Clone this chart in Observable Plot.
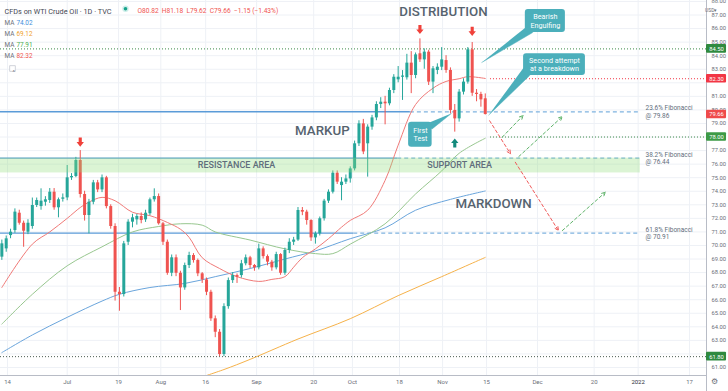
<!DOCTYPE html>
<html><head><meta charset="utf-8">
<script src="https://cdn.jsdelivr.net/npm/d3@7"></script>
<script src="https://cdn.jsdelivr.net/npm/@observablehq/plot@0.6"></script>
<style>
html,body{margin:0;padding:0;background:#fff;}
#chart{width:728px;height:391px;overflow:hidden;}
svg{display:block;}
</style></head><body><div id="chart"></div>
<script>
// ---------- DATA ----------
const firstBar = -1; // bar index of the first candle (Jun 14 = bar 0)
const opens  = [69.14,69.75,70.73,71.10,72.38,71.64,70.98,71.40,72.95,72.87,73.19,73.32,73.93,72.78,73.41,73.51,74.99,75.09,76.27,73.76,72.21,73.19,74.62,74.10,74.99,72.87,71.40,66.55,66.38,70.24,71.72,71.89,72.14,71.89,72.34,73.37,73.61,71.60,70.24,67.95,69.09,67.95,66.87,68.52,69.26,68.89,67.91,67.46,66.55,64.59,63.60,61.96,65.49,67.41,67.78,67.78,68.65,69.09,68.52,68.35,69.75,69.18,68.77,68.35,69.33,67.95,69.63,70.24,70.40,72.58,72.46,71.84,70.56,70.86,71.97,73.27,73.93,75.33,74.42,74.67,74.91,75.65,77.50,78.97,77.50,78.73,79.41,80.40,80.57,80.45,81.43,82.22,82.41,82.37,83.45,82.54,84.14,83.69,84.26,82.05,82.91,83.15,83.64,82.91,79.96,79.34,81.31,82.05,84.43,81.23,81.14,80.82];
const highs  = [70.40,70.70,71.20,72.70,72.60,71.80,71.90,73.50,73.50,74.18,73.60,74.20,74.20,73.50,73.80,75.90,75.30,76.50,77.00,74.00,73.40,74.80,74.80,75.20,75.10,73.00,71.60,66.90,70.30,71.90,72.30,72.30,72.40,72.60,73.50,74.18,73.80,71.70,70.40,69.30,69.30,68.10,68.70,69.50,69.40,69.00,68.00,67.60,66.70,64.80,63.80,65.70,67.60,68.00,67.90,68.90,69.30,69.20,68.60,70.10,69.90,69.30,68.90,69.50,69.40,69.80,70.50,70.60,72.80,72.80,72.60,71.90,71.00,72.10,73.40,74.10,75.50,75.50,75.00,75.20,75.80,77.70,79.20,79.30,78.90,79.60,80.60,80.90,81.00,81.60,82.60,83.20,82.90,84.10,84.30,84.20,85.24,84.50,84.40,83.20,83.40,84.60,84.00,83.10,80.40,81.50,82.30,84.60,84.97,81.50,81.30,81.18];
const lows   = [68.90,69.50,70.50,70.90,71.50,69.87,70.80,71.20,72.80,72.60,72.90,73.10,72.60,72.04,73.20,73.30,74.80,75.00,73.50,71.80,70.86,73.00,73.90,73.90,72.70,71.20,65.90,65.15,66.20,70.00,71.30,71.50,71.60,71.70,72.20,73.20,71.50,70.00,67.80,67.70,67.70,65.20,66.70,68.30,68.70,67.70,67.20,66.30,64.40,63.20,61.80,61.80,65.30,67.20,67.20,67.60,68.50,68.30,68.10,68.20,69.00,68.50,68.10,68.20,67.80,67.80,69.40,70.00,70.30,72.20,71.50,70.30,70.10,70.70,71.80,73.10,73.80,74.50,73.30,74.50,74.60,75.50,77.30,76.70,75.04,78.50,79.20,80.10,78.90,80.30,81.20,82.00,80.70,82.20,81.20,82.30,83.50,83.00,81.80,81.20,82.60,82.90,82.70,79.70,78.36,79.10,81.10,81.90,81.00,80.60,80.20,79.62];
const closes = [70.12,70.49,70.98,72.46,71.64,71.05,71.64,72.95,73.32,73.27,73.37,73.93,72.78,73.37,73.51,74.99,75.09,76.27,73.76,72.21,73.19,74.62,74.10,74.99,72.87,71.40,66.55,66.38,70.12,71.72,72.04,72.14,71.84,72.38,73.37,73.61,71.60,70.24,67.95,69.09,67.95,66.87,68.52,69.26,68.89,67.91,67.46,66.55,64.59,63.60,61.96,65.49,67.41,67.78,67.66,68.65,69.09,68.52,68.35,69.75,69.18,68.77,68.35,69.33,67.95,69.63,70.24,70.40,72.58,72.46,71.84,70.56,70.86,71.97,73.27,73.93,75.33,74.67,74.67,74.91,75.65,77.50,78.97,76.90,78.73,79.41,80.40,80.57,80.45,81.43,82.41,82.41,82.50,83.45,82.54,84.06,83.69,84.26,82.05,83.03,83.15,83.69,82.91,79.96,79.34,81.31,82.05,84.43,81.23,81.14,80.74,79.66];

// moving averages: bar index / value
const maBlueBars   = [-1,6,14,22,26,33,41,48,56,64,71,79,87,94,102,110];
const maBlueVals   = [62.1,63.4,64.7,65.9,66.4,66.9,67.2,67.7,68.3,69.0,69.6,70.5,71.3,72.6,73.4,74.02];
const maOrangeBars = [44,50,56,67,79,90,100,110];
const maOrangeVals = [60.2,60.85,61.6,63.1,64.6,66.3,67.7,69.12];
const maGreenBars  = [-1,6,14,22,29,35,40,45,48,56,64,71,75,79,87,94,100,104,110];
const maGreenVals  = [64.2,66.4,68.5,69.9,71.0,71.4,71.6,71.5,71.0,70.4,69.75,69.4,69.4,70.1,71.6,73.8,75.5,76.8,77.91];
const maRedBars    = [-1,6,10,14,17,19,22,25,29,33,37,40,42,45,49,53,58,61,64,66,68,71,74,77,79,83,87,90,94,98,101,104,106,110];
const maRedVals    = [66.9,70.1,71.0,72.0,72.8,73.2,73.55,73.3,72.45,72.2,71.7,71.2,70.6,69.1,68.3,67.7,67.35,67.5,67.7,68.4,69.1,69.75,70.5,71.35,71.85,72.6,74.8,77.4,80.4,81.6,82.1,82.3,82.45,82.32];
const maLegendVals   = ["74.02","69.12","77.91","82.32"];
const maLegendColors = ["#3f8fdc","#f0a12b","#4caf50","#ef5350"];

// Fibonacci levels
const fibPrices   = [79.86, 76.44, 70.91];
const fibPcts     = ["23.6%", "38.2%", "61.8%"];
const fibSolidEnd = [92.8, 89.9, 79.8];
const fibEndBar   = 145.6;
const zoneLow = 75.35, zoneHigh = 76.44;

// horizontal price marks
const tagPrices = [84.50, 82.30, 79.66, 78.00, 61.80];
const tagColors = ["#2f8a3f", "#f23645", "#ef4b4b", "#3d9a46", "#2f8a3f"];
const dotLevelsFull  = [84.50, 61.80];
const dotLevelsRight = [82.30, 78.00];

// axes
const priceTicks = d3.range(61, 89);
const timeLabels = ["14","Jul","19","Aug","16","Sep","20","Oct","18","Nov","15","Dec","20","2022","17"];
const timeBars   = [0.3,14,25.8,35.5,45.8,57.5,70.6,79.5,90.3,100.2,110.3,122,135,145.1,156.9];

// projected path (dashed arrows): [bar, price] -> [bar, price]
const projRed   = [[111,79.2,115.8,76.76],[116.9,76.14,126.8,71.1]];
const projGreen = [[113.9,77.99,118.7,79.59],[117.7,76.56,127.7,79.51],[127.7,71.1,137.6,73.93]];

// signal arrows
const arrowDownBars = [17, 95, 107];
const arrowDownAt   = [77.63, 85.93, 85.80];
const arrowUpBars   = [103];
const arrowUpAt     = [77.56];

// callouts
const callouts = [
  {text:"Bearish\nEngulfing", b1:119.2, b2:128.4, p1:85.71, p2:87.41, tx:123.8, ty:86.56,
   tri:[[119.9,86.25],[120.9,85.71],[109.2,83.50]]},
  {text:"Second attempt\nat a breakdown", b1:118.8, b2:133.0, p1:82.54, p2:84.14, tx:125.9, ty:83.34,
   tri:[[119.0,83.2],[120.2,82.54],[110.8,79.62]]},
  {text:"First\nTest", b1:92.4, b2:97.8, p1:77.25, p2:79.09, tx:95.1, ty:78.2,
   tri:[[96.2,78.95],[97.8,78.6],[102.2,79.73]]}
];

// phase labels
const phaseNames = ["DISTRIBUTION","MARKUP","MARKDOWN"];
const phaseBars  = [100.4, 72.6, 111.9];
const phasePrices= [87.21, 78.48, 73.07];
const zoneNames  = ["RESISTANCE AREA","SUPPORT AREA"];
const zoneBars   = [52.9, 104.1];

// ---------- BUILD ----------
const GREEN = "#26a69a", RED = "#ef5350", TEAL = "#4bafbb";
const X0 = -1.31, X1 = 160.8, Y0 = 60.41, Y1 = 88.07;
const bars = opens.map((o,k)=>({i:k+firstBar, o, h:highs[k], l:lows[k], c:closes[k]}));
const ups = bars.filter(d=>d.c>=d.o), dns = bars.filter(d=>d.c<d.o);
const lo = d => Math.min(d.o,d.c) - (Math.abs(d.c-d.o)<0.08?0.04:0);
const hi = d => Math.max(d.o,d.c) + (Math.abs(d.c-d.o)<0.08?0.04:0);
const ma = (b,v)=>b.map((x,k)=>({x, v:v[k]}));
const fib = fibPrices.map((p,k)=>({p, pct:fibPcts[k], s:fibSolidEnd[k]}));
const tags = tagPrices.map((p,k)=>({p, color:tagColors[k]}));
const ticks = timeBars.map((x,k)=>({x, t:timeLabels[k]}));
// price labels hidden behind a coloured tag are not drawn
const axisLabels = priceTicks.filter(t => !tagPrices.some(p => Math.abs(p - t) < 0.3 || (Math.abs(p - t) < 0.45 && p < t === false && p !== 79.66)));
const FONT = "Roboto, 'Liberation Sans', sans-serif";

function arrowSym(dir){
  return {draw(ctx, size){
    const r = Math.sqrt(size/Math.PI), s = dir;
    ctx.moveTo(-0.34*r, -r*s); ctx.lineTo(0.34*r, -r*s); ctx.lineTo(0.34*r, 0);
    ctx.lineTo(0.8*r, 0); ctx.lineTo(0, r*s); ctx.lineTo(-0.8*r, 0); ctx.lineTo(-0.34*r, 0); ctx.closePath();
  }};
}

const legendMarks = maLegendVals.flatMap((v,k)=>[
  Plot.text(["MA"], {frameAnchor: "top-left", dx: 4, dy: 20 + k*11.1, textAnchor: "start", fontSize: 6.4, fill: "#6b6e78"}),
  Plot.text([v], {frameAnchor: "top-left", dx: 16, dy: 20 + k*11.1, textAnchor: "start", fontSize: 6.4, fill: maLegendColors[k]})
]);

const chart = Plot.plot({
  width: 728, height: 391,
  marginLeft: 0, marginRight: 22, marginTop: 0, marginBottom: 16,
  x: {domain: [X0, X1], axis: null},
  y: {domain: [Y0, Y1], axis: null},
  color: {type: "identity"},
  style: {fontFamily: FONT, background: "#ffffff", overflow: "visible"},
  marks: [
    // grid
    Plot.ruleY(priceTicks, {y: d=>d, stroke: "#eef1f6", strokeWidth: 1}),
    Plot.ruleX(timeBars, {x: d=>d, stroke: "#eef1f6", strokeWidth: 1}),
    // fibonacci lines
    Plot.ruleY(fib, {y: "p", x1: X0, x2: "s", stroke: "#5b9bd8", strokeWidth: 1.4, clip: true}),
    Plot.ruleY(fib, {y: "p", x1: "s", x2: fibEndBar, stroke: "#7fb3df", strokeWidth: 1.2, strokeDasharray: "4,3", clip: true}),
    // dotted levels
    Plot.ruleY(dotLevelsFull, {y: d=>d, x1: X0, x2: X1, stroke: d=> d>70 ? "#3c8a48" : "#4a5a50", strokeWidth: 1, strokeDasharray: "1,2"}),
    Plot.ruleY(dotLevelsRight, {y: d=>d, x1: 111.2, x2: X1, stroke: d=> d>80 ? "#f23645" : "#3c8a48", strokeWidth: 1, strokeDasharray: "1,2"}),
    // moving averages
    Plot.line(ma(maOrangeBars, maOrangeVals), {x:"x", y:"v", stroke:"#f6b24a", strokeWidth:1, curve:"catmull-rom", clip:true}),
    Plot.line(ma(maBlueBars, maBlueVals), {x:"x", y:"v", stroke:"#6aa5dc", strokeWidth:1, curve:"catmull-rom", clip:true}),
    Plot.line(ma(maGreenBars, maGreenVals), {x:"x", y:"v", stroke:"#98c78f", strokeWidth:1, curve:"catmull-rom", clip:true}),
    Plot.line(ma(maRedBars, maRedVals), {x:"x", y:"v", stroke:"#f07a78", strokeWidth:1, curve:"catmull-rom", clip:true}),
    // candles
    Plot.ruleX(ups, {x:"i", y1:"l", y2:"h", stroke: GREEN, strokeWidth: 1, clip: true}),
    Plot.ruleX(dns, {x:"i", y1:"l", y2:"h", stroke: RED, strokeWidth: 1, clip: true}),
    Plot.ruleX(ups, {x:"i", y1: lo, y2: hi, stroke: GREEN, strokeWidth: 3, clip: true}),
    Plot.ruleX(dns, {x:"i", y1: lo, y2: hi, stroke: RED, strokeWidth: 3, clip: true}),
    // zone band
    Plot.rect([0], {x1: X0, x2: fibEndBar, y1: zoneLow, y2: zoneHigh, fill: "#8edc78", fillOpacity: 0.32, clip: true}),
    Plot.text(zoneNames, {x: (d,k)=>zoneBars[k], y: (zoneLow+zoneHigh)/2, text: d=>d, fontSize: 9, fontWeight: 500, fill: "#5f6e7c"}),
    // projection arrows
    Plot.arrow(projRed, {x1: d=>d[0], y1: d=>d[1], x2: d=>d[2], y2: d=>d[3], stroke: "#f05a5a", strokeWidth: 1, strokeDasharray: "3,2.5", headLength: 6, headAngle: 50}),
    Plot.arrow(projGreen, {x1: d=>d[0], y1: d=>d[1], x2: d=>d[2], y2: d=>d[3], stroke: "#5fb36a", strokeWidth: 1, strokeDasharray: "3,2.5", headLength: 6, headAngle: 50}),
    // callouts
    ...callouts.map(c => Plot.line(c.tri, {x: d=>d[0], y: d=>d[1], fill: TEAL, stroke: TEAL, strokeWidth: 0.5})),
    Plot.rect(callouts, {x1:"b1", x2:"b2", y1:"p1", y2:"p2", fill: TEAL, rx: 3}),
    Plot.text(callouts, {x:"tx", y:"ty", text:"text", fill:"#ffffff", fontSize: 7.2, lineHeight: 1.15}),
    // signal arrows
    Plot.dot(arrowDownBars, {x: d=>d, y: (d,k)=>arrowDownAt[k], r: 4.6, symbol: arrowSym(1), fill: "#f0413a"}),
    Plot.dot(arrowUpBars, {x: d=>d, y: (d,k)=>arrowUpAt[k], r: 4.6, symbol: arrowSym(-1), fill: "#138a7c"}),
    // phase labels
    Plot.text(phaseNames, {x: (d,k)=>phaseBars[k], y: (d,k)=>phasePrices[k], text: d=>d, fontSize: 13.3, fontWeight: 500, fill: "#56636f"}),
    // fib labels
    Plot.text(fib, {x: fibEndBar + 1.2, y: "p", text: d=>d.pct + " Fibonacci", textAnchor: "start", dy: -3.6, fontSize: 6.5, fill: "#5f6e7c"}),
    Plot.text(fib, {x: fibEndBar + 1.2, y: "p", text: d=>"@ " + d.p.toFixed(2), textAnchor: "start", dy: 3.6, fontSize: 6.5, fill: "#5f6e7c"}),
    // borders
    Plot.ruleX([X1], {y1: Y0 - 1.3, y2: Y1, stroke: "#b8bcc6", strokeWidth: 1}),
    Plot.ruleY([Y0], {x1: X0, x2: X1, stroke: "#b8bcc6", strokeWidth: 1}),
    // price axis
    Plot.text(axisLabels, {x: X1, y: d=>d, text: d=>d.toFixed(2), textAnchor: "start", dx: 5, fontSize: 5.8, fill: "#6b6e78"}),
    Plot.rect(tags, {x1: X1, x2: X1 + 4.6, y1: d=>d.p - 0.32, y2: d=>d.p + 0.32, fill: "color", rx: 1}),
    Plot.text(tags, {x: X1 + 2.3, y: "p", text: d=>d.p.toFixed(2), fontSize: 5.8, fill: "#ffffff"}),
    Plot.text(["USD\u25BE"], {frameAnchor: "top-right", dx: 11, dy: 7.5, fontSize: 5, fill: "#6b6e78"}),
    // time axis
    Plot.text(ticks, {x: "x", text: "t", frameAnchor: "bottom", dy: 8.5, fontSize: 6, fill: d=>d.t==="2022" ? "#2a2e39" : "#6b6e78", fontWeight: d=>d.t==="2022" ? 700 : 400}),
    Plot.text(["\u2699"], {frameAnchor: "bottom-right", dx: 11, dy: 8.5, fontSize: 8, fill: "#6b6e78"}),
    // header
    Plot.text(["CFDs on WTI Crude Oil \u00b7 1D \u00b7 TVC"], {frameAnchor: "top-left", dx: 4, dy: 8.3, textAnchor: "start", fontSize: 7.3, fill: "#434651"}),
    Plot.dot([0], {frameAnchor: "top-left", dx: 125, dy: 8.3, r: 3.2, fill: "#cdeee9"}),
    Plot.dot([0], {frameAnchor: "top-left", dx: 125, dy: 8.3, r: 1.8, fill: "#17a38b"}),
    Plot.text(["O80.82  H81.18  L79.62  C79.66  \u22121.15 (\u22121.43%)"], {frameAnchor: "top-left", dx: 137, dy: 8.3, textAnchor: "start", fontSize: 6.6, fill: "#ef5350"}),
    ...legendMarks,
    Plot.dot([0], {frameAnchor: "top-left", dx: 12, dy: 68, r: 3.2, symbol: "square", stroke: "#c5c8d0", strokeWidth: 0.8, fill: "#ffffff"}),
    Plot.text(["^"], {frameAnchor: "top-left", dx: 12, dy: 68.8, fontSize: 6, fill: "#6b6e78"})
  ]
});
document.getElementById("chart").appendChild(chart);
</script>
</body></html>
